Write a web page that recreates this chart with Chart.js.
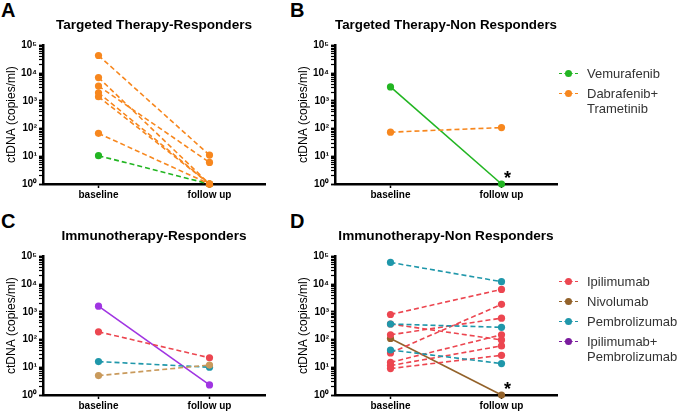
<!DOCTYPE html>
<html>
<head>
<meta charset="utf-8">
<script src="https://cdn.jsdelivr.net/npm/chart.js@4/dist/chart.umd.min.js"></script>
<style>
body { margin:0; background:#fff; width:677px; height:412px; position:relative; overflow:hidden; font-family:"Liberation Sans", Arial, sans-serif; }
.panel { position:absolute; width:292px; height:206px; }
.letter { position:absolute; font-weight:bold; font-size:20px; line-height:20px; color:#000; }
.legend { position:absolute; font-size:13px; color:#333; }
.item { display:flex; align-items:flex-start; margin-bottom:5px; line-height:15px; }
.mark { position:relative; width:19px; height:15px; margin-right:9px; flex:none; }
.mark .ln { position:absolute; left:0; right:0; top:7px; border-top:1px dashed; }
.mark .dot { position:absolute; left:6px; top:4px; width:7px; height:7px; border-radius:50%; }
</style>
</head>
<body>
<div class="letter" style="left:1px;top:0px">A</div>
<div class="letter" style="left:290px;top:0px">B</div>
<div class="letter" style="left:1px;top:211px">C</div>
<div class="letter" style="left:290px;top:211px">D</div>

<div class="panel" style="left:0;top:0"><canvas id="chartA"></canvas></div>
<div class="panel" style="left:292px;top:0"><canvas id="chartB"></canvas></div>
<div class="panel" style="left:0;top:211px"><canvas id="chartC"></canvas></div>
<div class="panel" style="left:292px;top:211px"><canvas id="chartD"></canvas></div>

<div class="legend" id="legendB" style="left:559px;top:66px"></div>
<div class="legend" id="legendD" style="left:559px;top:274px"></div>

<script>
// time points on x
const timepoints = ['baseline', 'follow up'];

// A: targeted therapy responders
const aVemBaseline = [10.5];
const aVemFollowUp = [1];
const aDabBaseline = [43000, 6900, 3400, 1950, 1400, 67];
const aDabFollowUp = [11, 1, 6, 1, 1, 1];

// B: targeted therapy non responders
const bVemBaseline = [3150];
const bVemFollowUp = [1];
const bDabBaseline = [74];
const bDabFollowUp = [108];

// C: immunotherapy responders
const cIpiBaseline = [190];
const cIpiFollowUp = [22];
const cNivoBaseline = [5];
const cNivoFollowUp = [12];
const cPembroBaseline = [16];
const cPembroFollowUp = [10];
const cComboBaseline = [1600];
const cComboFollowUp = [2.3];

// D: immunotherapy non responders
const dIpiBaseline = [800, 363, 148, 33, 15, 11.5, 9];
const dIpiFollowUp = [6400, 97, 590, 1860, 148, 59, 27];
const dNivoBaseline = [109];
const dNivoFollowUp = [1];
const dPembroBaseline = [60000, 363, 42];
const dPembroFollowUp = [12200, 275, 13.6];

const titles = ['Targeted Therapy-Responders', 'Targeted Therapy-Non Responders',
                'Immunotherapy-Responders', 'Immunotherapy-Non Responders'];
const yTitle = 'ctDNA (copies/ml)';

const GREEN = '#22b522', ORANGE = '#f7871e', RED = '#ec4650', BROWN = '#93622a',
      TAN = '#c99a5c', CYAN = '#1f97aa', VIOLET = '#a035e2', PURPLE = '#7a1b9e';

const legendB = [
  { label: ['Vemurafenib'], color: GREEN },
  { label: ['Dabrafenib+', 'Trametinib'], color: ORANGE }
];
const legendD = [
  { label: ['Ipilimumab'], color: RED },
  { label: ['Nivolumab'], color: BROWN },
  { label: ['Pembrolizumab'], color: CYAN },
  { label: ['Ipilimumab+', 'Pembrolizumab'], color: PURPLE }
];

const FONT = '"Liberation Sans", Arial, sans-serif';
Chart.defaults.font.family = FONT;

// one dataset per patient
function pairs(base, follow, color, dashed) {
  return base.map((b, i) => ({
    data: [b, follow[i]],
    borderColor: color,
    backgroundColor: color,
    borderWidth: 1.6,
    borderDash: dashed ? [5, 3] : [],
    pointRadius: 3.6,
    pointBorderWidth: 0,
    pointHoverRadius: 3.6,
    tension: 0,
    clip: false
  }));
}

const sup = { '0':'\u2070', '1':'\u00b9', '2':'\u00b2', '3':'\u00b3', '4':'\u2074', '5':'\u2075' };

const asteriskPlugin = {
  id: 'asterisk',
  afterDatasetsDraw(chart) {
    const x = chart.scales.x.getPixelForValue(1);
    const y = chart.scales.y.getPixelForValue(1);
    const c = chart.ctx;
    c.save();
    c.fillStyle = '#000';
    c.font = 'bold 18px ' + FONT;
    c.textAlign = 'center';
    c.textBaseline = 'middle';
    c.fillText('*', x + 6, y - 5);
    c.restore();
  }
};

function makeChart(id, title, datasets, extra) {
  return new Chart(document.getElementById(id), {
    type: 'line',
    data: { labels: timepoints, datasets: datasets },
    plugins: extra ? [asteriskPlugin] : [],
    options: {
      responsive: true,
      maintainAspectRatio: false,
      animation: false,
      layout: { padding: { left: 0, right: 27, top: 0, bottom: 0 } },
      plugins: {
        legend: { display: false },
        tooltip: { enabled: false },
        title: {
          display: true, text: title, fullSize: false, color: '#000',
          font: { size: 13.6, weight: 'bold' },
          padding: { top: 17, bottom: 12 }
        }
      },
      scales: {
        x: {
          type: 'category', offset: true,
          afterFit: s => { s.height = 22; },
          border: { color: '#000', width: 2.5 },
          grid: { drawOnChartArea: false, tickLength: 4, tickColor: '#000', tickWidth: 1.5 },
          ticks: { padding: 1, color: '#000', font: { size: 10, weight: 'bold' } }
        },
        y: {
          type: 'logarithmic', min: 1, max: 100000,
          afterBuildTicks: s => {
            s.ticks = s.ticks.filter(t => {
              const m = t.value / Math.pow(10, Math.floor(Math.log10(t.value) + 1e-9));
              return Math.abs(m - Math.round(m)) < 1e-6;
            });
          },
          afterFit: s => { s.width = 43; },
          border: { color: '#000', width: 2.5 },
          grid: {
            drawOnChartArea: false, tickLength: 4, tickColor: '#000',
            tickWidth: ctx => (ctx.tick && ctx.tick.major ? 1.8 : 1.2)
          },
          ticks: {
            autoSkip: false, padding: 2, color: '#000',
            font: { size: 10, weight: 'bold' },
            callback: v => {
              const e = Math.log10(v);
              if (Math.abs(e - Math.round(e)) > 1e-9) return '';
              return '10' + sup[String(Math.round(e))];
            }
          },
          title: {
            display: true, text: yTitle, color: '#000',
            font: { size: 12 }, padding: { top: 4, bottom: 0 }
          }
        }
      }
    }
  });
}

makeChart('chartA', titles[0], [
  ...pairs(aDabBaseline, aDabFollowUp, ORANGE, true),
  ...pairs(aVemBaseline, aVemFollowUp, GREEN, true)
], false);

makeChart('chartB', titles[1], [
  ...pairs(bDabBaseline, bDabFollowUp, ORANGE, true),
  ...pairs(bVemBaseline, bVemFollowUp, GREEN, false)
], true);

makeChart('chartC', titles[2], [
  ...pairs(cNivoBaseline, cNivoFollowUp, TAN, true),
  ...pairs(cPembroBaseline, cPembroFollowUp, CYAN, true),
  ...pairs(cIpiBaseline, cIpiFollowUp, RED, true),
  ...pairs(cComboBaseline, cComboFollowUp, VIOLET, false)
], false);

makeChart('chartD', titles[3], [
  ...pairs(dPembroBaseline, dPembroFollowUp, CYAN, true),
  ...pairs(dIpiBaseline, dIpiFollowUp, RED, true),
  ...pairs(dNivoBaseline, dNivoFollowUp, BROWN, false)
], true);

function buildLegend(id, entries) {
  const box = document.getElementById(id);
  entries.forEach(e => {
    const item = document.createElement('div');
    item.className = 'item';
    const mark = document.createElement('div');
    mark.className = 'mark';
    mark.innerHTML = '<div class="ln" style="border-color:' + e.color + '"></div>' +
                     '<div class="dot" style="background:' + e.color + '"></div>';
    const txt = document.createElement('div');
    e.label.forEach((l, i) => {
      if (i) txt.appendChild(document.createElement('br'));
      txt.appendChild(document.createTextNode(l));
    });
    item.appendChild(mark);
    item.appendChild(txt);
    box.appendChild(item);
  });
}
buildLegend('legendB', legendB);
buildLegend('legendD', legendD);
</script>
</body>
</html>
